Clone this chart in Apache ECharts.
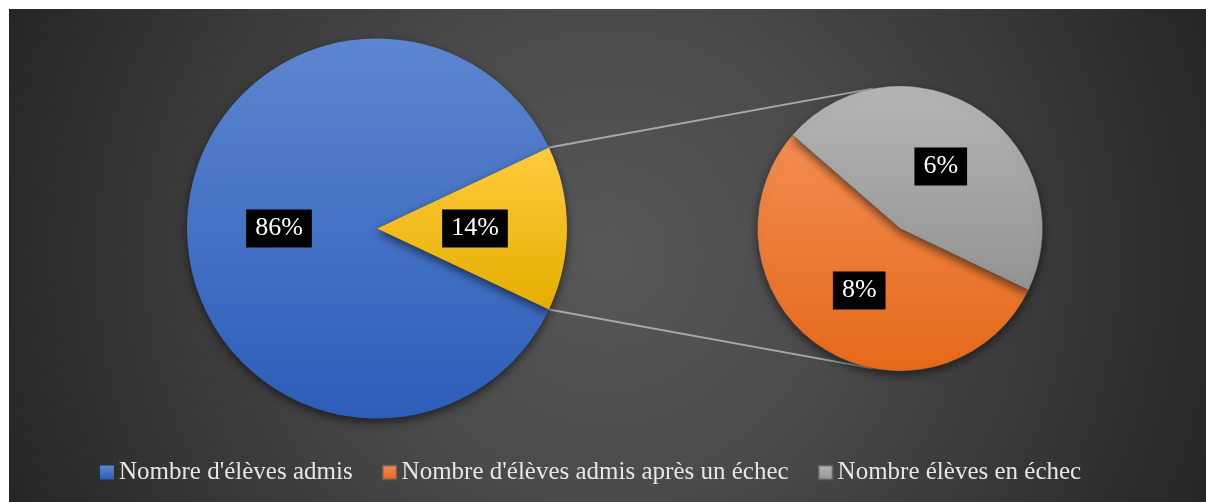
<!DOCTYPE html>
<html>
<head>
<meta charset="utf-8">
<script src="https://cdn.jsdelivr.net/npm/echarts@6/dist/echarts.min.js"></script>
<style>
    body { margin: 0; background: #fff; }
    #chart {
        position: absolute; left: 9px; top: 9px; width: 1197px; height: 493px;
        background: radial-gradient(circle at 50% 50%, #585858 0%, #4a4a4a 38%, #262626 100%);
    }
</style>
</head>
<body>
<div id="chart"></div>
<script>
// valeurs (en % du total)
const mainNames = ["Nombre d'élèves admis", 'Autres'];
const mainValues = [86, 14];
const subNames = ["Nombre d'élèves admis après un échec", 'Nombre élèves en échec'];
const subValues = [7.6, 6.4];
const legendNames = ["Nombre d'élèves admis", "Nombre d'élèves admis après un échec", 'Nombre élèves en échec'];

const total = mainValues.reduce((a, b) => a + b, 0);
const font = 'Liberation Serif, Times New Roman, serif';

function grad (top, bottom) {
    return new echarts.graphic.LinearGradient(0, 0, 0, 1, [
        {offset: 0, color: top},
        {offset: 1, color: bottom}
    ]);
}

const mainColors = [grad('#5d86d0', '#2c5db8'), grad('#ffcb3e', '#e4ae00')];
const subColors = [grad('#f28d52', '#e5691a'), grad('#b6b6b6', '#939393')];

// géométrie des deux camemberts
const mainC = [368, 219.5], mainR = 190;
const subC = [891, 219.5], subR = 142.5;
const half = mainValues[1] / total * 180;   // demi-angle de la part "autres"
const subStart = 334.4;

const label = {
    show: true,
    position: 'inside',
    color: '#fff',
    fontFamily: font,
    fontSize: 26,
    backgroundColor: '#000',
    padding: [7, 9, 5, 9],
    formatter: p => Math.round(p.value / total * 100) + '%'
};
const shadow = {
    shadowBlur: 10,
    shadowOffsetY: 4,
    shadowColor: 'rgba(0,0,0,0.55)'
};

const rad = Math.PI / 180;
const a1 = half * rad;
const a2 = 101 * rad;
const lines = [1, -1].map(s => ({
    type: 'line',
    z: 0,
    shape: {
        x1: mainC[0] + mainR * Math.cos(a1), y1: mainC[1] - s * mainR * Math.sin(a1),
        x2: subC[0] + subR * Math.cos(a2), y2: subC[1] - s * subR * Math.sin(a2)
    },
    style: {stroke: '#a8a8a8', lineWidth: 2}
}));

const chart = echarts.init(document.getElementById('chart'));
chart.setOption({
    backgroundColor: 'transparent',
    animation: false,
    graphic: lines,
    legend: {
        data: legendNames,
        left: 86,
        top: 446,
        itemWidth: 14,
        itemHeight: 14,
        itemGap: 29,
        icon: 'rect',
        textStyle: {color: '#e6e6e6', fontFamily: font, fontSize: 25}
    },
    series: [
        {
            type: 'pie',
            center: mainC,
            radius: mainR,
            startAngle: -half,
            clockwise: true,
            label: label,
            labelLine: {show: false},
            itemStyle: shadow,
            emphasis: {disabled: true},
            data: mainNames.map((n, i) => ({name: n, value: mainValues[i], itemStyle: {color: mainColors[i]}}))
        },
        {
            type: 'pie',
            center: subC,
            radius: subR,
            startAngle: subStart,
            clockwise: true,
            label: label,
            labelLine: {show: false},
            itemStyle: Object.assign({borderColor: 'rgba(90,90,90,0.6)', borderWidth: 0.6}, shadow),
            emphasis: {disabled: true},
            data: subNames.map((n, i) => ({name: n, value: subValues[i], itemStyle: {color: subColors[i]}}))
        }
    ]
});
</script>
</body>
</html>
